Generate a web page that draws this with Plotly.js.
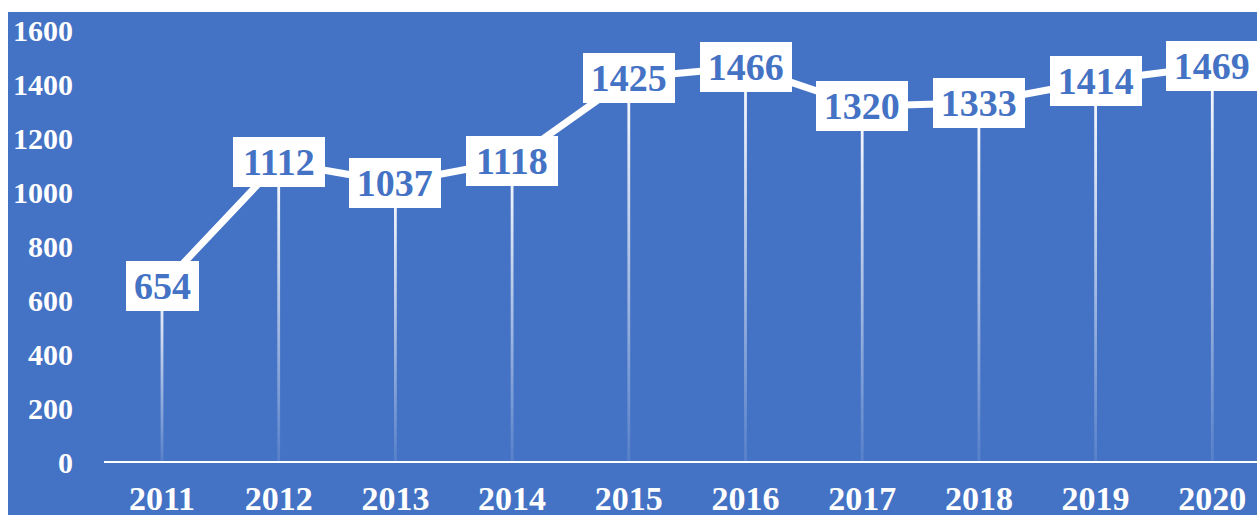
<!DOCTYPE html>
<html>
<head>
<meta charset="utf-8">
<script src="https://cdn.plot.ly/plotly-3.0.1.min.js"></script>
<style>
  html, body { margin: 0; padding: 0; background: #ffffff; }
  #chart { position: absolute; left: 8px; top: 12px; width: 1249px; height: 503px; }
</style>
</head>
<body>
<div id="chart"></div>
<script>
const years = [2011, 2012, 2013, 2014, 2015, 2016, 2017, 2018, 2019, 2020];
const values = [654, 1112, 1037, 1118, 1425, 1466, 1320, 1333, 1414, 1469];
const yTicks = [0, 200, 400, 600, 800, 1000, 1200, 1400, 1600];

const BLUE = '#4472C4';
const FONT = '"Liberation Serif", "Times New Roman", serif';

const traces = [];
// gradient drop lines from each point down to the axis
const half = 0.012;
years.forEach((yr, i) => {
  traces.push({
    type: 'scatter',
    x: [yr - half, yr + half, yr + half, yr - half, yr - half],
    y: [0, 0, values[i], values[i], 0],
    mode: 'none',
    fill: 'toself',
    fillgradient: {
      type: 'vertical',
      colorscale: [[0, 'rgba(255,255,255,0.1)'], [0.5, 'rgba(255,255,255,0.55)'], [1, 'rgba(255,255,255,1)']]
    },
    hoverinfo: 'skip',
    showlegend: false
  });
});
// main line
traces.push({
  type: 'scatter',
  x: years,
  y: values,
  mode: 'lines',
  line: { color: '#ffffff', width: 7 },
  hoverinfo: 'skip',
  showlegend: false
});

const annotations = years.map((yr, i) => {
  const t = String(values[i]);
  return {
    x: yr, y: values[i], xref: 'x', yref: 'y',
    text: '<b>' + t + '</b>',
    showarrow: false,
    xanchor: 'center', yanchor: 'middle',
    bgcolor: '#ffffff',
    bordercolor: '#ffffff',
    borderwidth: 1,
    borderpad: 3,
    width: t.length * 18.4 + 10,
    font: { family: FONT, size: 38, color: BLUE }
  };
});

const layout = {
  width: 1249, height: 503,
  paper_bgcolor: BLUE,
  plot_bgcolor: BLUE,
  margin: { l: 96, r: 0, t: 0, b: 53, pad: 0 },
  showlegend: false,
  xaxis: {
    type: 'linear',
    range: [2010.503, 2020.383],
    tickvals: years,
    ticktext: years.map(String),
    showgrid: false,
    zeroline: false,
    showline: false,
    ticks: 'outside', ticklen: 6, tickcolor: 'rgba(0,0,0,0)',
    tickfont: { family: FONT, size: 34, color: '#ffffff', weight: 'bold' },
    fixedrange: true
  },
  yaxis: {
    range: [0, 1670],
    tickvals: yTicks,
    ticktext: yTicks.map(String),
    showgrid: false,
    zeroline: true, zerolinecolor: '#ffffff', zerolinewidth: 2.5,
    showline: false,
    ticks: 'outside', ticklen: 24, tickcolor: 'rgba(0,0,0,0)',
    tickfont: { family: FONT, size: 30, color: '#ffffff', weight: 'bold' },
    fixedrange: true
  },
  annotations: annotations
};

Plotly.newPlot('chart', traces, layout, { displayModeBar: false, staticPlot: true });
</script>
</body>
</html>
